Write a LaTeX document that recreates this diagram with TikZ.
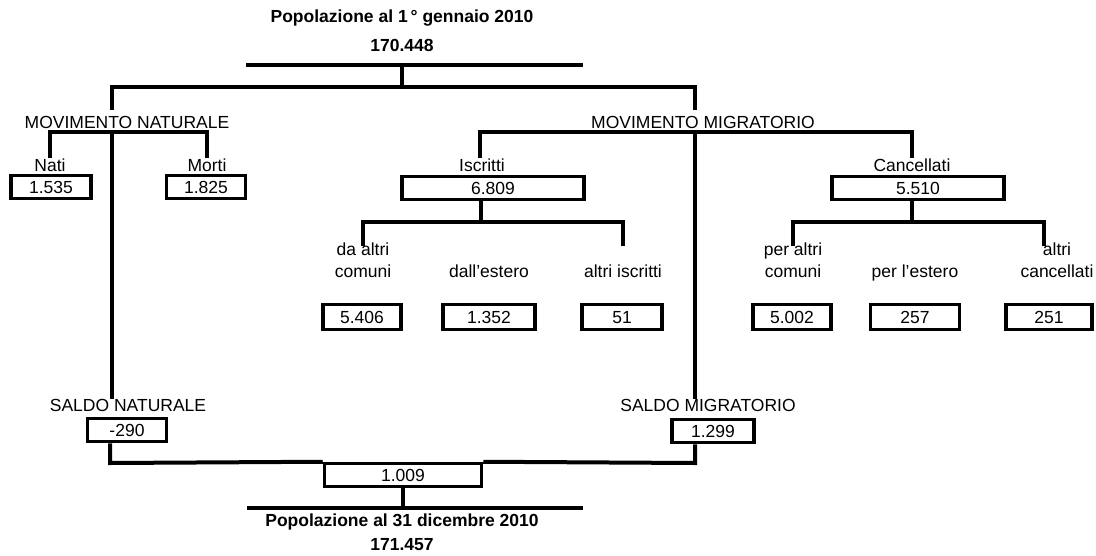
\documentclass[tikz,border=0pt]{standalone}
\usepackage{fontspec}
\setmainfont{Liberation Sans}

\begin{document}
\begin{tikzpicture}[
      x=1pt, y=-1pt,
      every node/.style={inner sep=0pt, font=\fontsize{17.5}{22}\selectfont},
      title/.style={font=\fontsize{17.5}{22}\selectfont\bfseries},
      lbl/.style={inner ysep=6pt},
      sub/.style={align=center, anchor=north},
      box/.style={draw, line width=3.5pt, minimum height=23pt, text height=12.6pt, text depth=0pt},
      link/.style={line width=4pt, line join=miter}
    ]
    \useasboundingbox (0,0) rectangle (1096,555);

    % inizio anno
    \node[title] (popIni) at (402,18) {Popolazione al 1\,° gennaio 2010};
    \node[title] (valIni) at (402,45) {170.448};

    % movimento naturale
    \node[lbl] (movNat) at (127,122) {MOVIMENTO NATURALE};
    \node (nati) at (50,165) {Nati};
    \node[box, minimum width=80pt] (valNati) at (51,187) {1.535};
    \node (morti) at (207,165) {Morti};
    \node[box, minimum width=79pt] (valMorti) at (206,187) {1.825};

    % movimento migratorio
    \node[lbl] (movMig) at (703,122) {MOVIMENTO MIGRATORIO};
    \node (iscr) at (482,165) {Iscritti};
    \node[box, minimum width=182pt] (valIscr) at (493,188) {6.809};
    \node (canc) at (912,165) {Cancellati};
    \node[box, minimum width=172pt] (valCanc) at (918,188) {5.510};

    \node[sub] (iscrCom) at (363,243) {da altri\\comuni};
    \node[sub] (iscrEst) at (489,265) {dall'estero};
    \node[sub] (iscrAlt) at (623,265) {altri iscritti};
    \node[sub] (cancCom) at (793,243) {per altri\\comuni};
    \node[sub] (cancEst) at (915,265) {per l'estero};
    \node[sub] (cancAlt) at (1057,243) {altri\\cancellati};

    \node[box, minimum width=78pt, minimum height=25pt] (valIscrCom) at (362,317) {5.406};
    \node[box, minimum width=92pt, minimum height=25pt] (valIscrEst) at (489,317) {1.352};
    \node[box, minimum width=80pt, minimum height=25pt] (valIscrAlt) at (622,317) {51};
    \node[box, minimum width=78pt, minimum height=25pt] (valCancCom) at (792,317) {5.002};
    \node[box, minimum width=89pt, minimum height=25pt] (valCancEst) at (915,317) {257};
    \node[box, minimum width=86pt, minimum height=25pt] (valCancAlt) at (1049,317) {251};

    % saldi
    \node (saldoNat) at (128,405) {SALDO NATURALE};
    \node[box, minimum width=79pt] (valSaldoNat) at (127,430) {-290};
    \node (saldoMig) at (708,405) {SALDO MIGRATORIO};
    \node[box, minimum width=82pt] (valSaldoMig) at (713,431) {1.299};

    % fine anno
    \node (totale) at (403,475) [box, minimum width=157pt, fill=white] {1.009};
    \node[title] (popFin) at (402,522) {Popolazione al 31 dicembre 2010};
    \node[title] (valFin) at (402,545) {171.457};

    % connettori
    \coordinate (iniL) at (246,65);
    \coordinate (iniR) at (583,65);
    \coordinate (iniM) at (402,65);
    \coordinate (natTop) at (112,87);
    \coordinate (migTop) at (695,87);
    \draw[link] (iniL) -- (iniR);
    \draw[link] (iniM) -- (iniM |- natTop);
    \draw[link] (natTop |- movNat.north) -- (natTop) -- (migTop) -- (migTop |- movMig.north);

    \draw[link] (natTop |- movNat.south) -- (natTop |- saldoNat.north);
    \draw[link] (migTop |- movMig.south) -- (migTop |- saldoMig.north);

    \coordinate (natiTop) at (50,132);
    \coordinate (mortiTop) at (207,132);
    \draw[link] (natiTop |- nati.north) -- (natiTop) -- (mortiTop) -- (mortiTop |- morti.north);

    \coordinate (iscrTop) at (480,132);
    \coordinate (cancTop) at (912,132);
    \draw[link] (iscrTop |- iscr.north) -- (iscrTop) -- (cancTop) -- (cancTop |- canc.north);

    \coordinate (iscrSplit) at (481,222);
    \coordinate (cancSplit) at (912,222);
    \draw[link] (iscrSplit |- valIscr.south) -- (iscrSplit);
    \draw[link] (363,246) -- (363,222) -- (623,222) -- (623,246);
    \draw[link] (cancSplit |- valCanc.south) -- (cancSplit);
    \draw[link] (793,246) -- (793,222) -- (1044,222) -- (1044,246);

    \coordinate (natBot) at (110,463);
    \coordinate (migBot) at (695,463);
    \draw[link] (natBot |- valSaldoNat.south) -- (natBot) -- (totale.north west);
    \draw[link] (totale.north east) -- (migBot) -- (migBot |- valSaldoMig.south);

    \coordinate (finL) at (247,508);
    \coordinate (finR) at (583,508);
    \draw[link] (totale.south) -- (totale.south |- finL);
    \draw[link] (finL) -- (finR);
\end{tikzpicture}
\end{document}
